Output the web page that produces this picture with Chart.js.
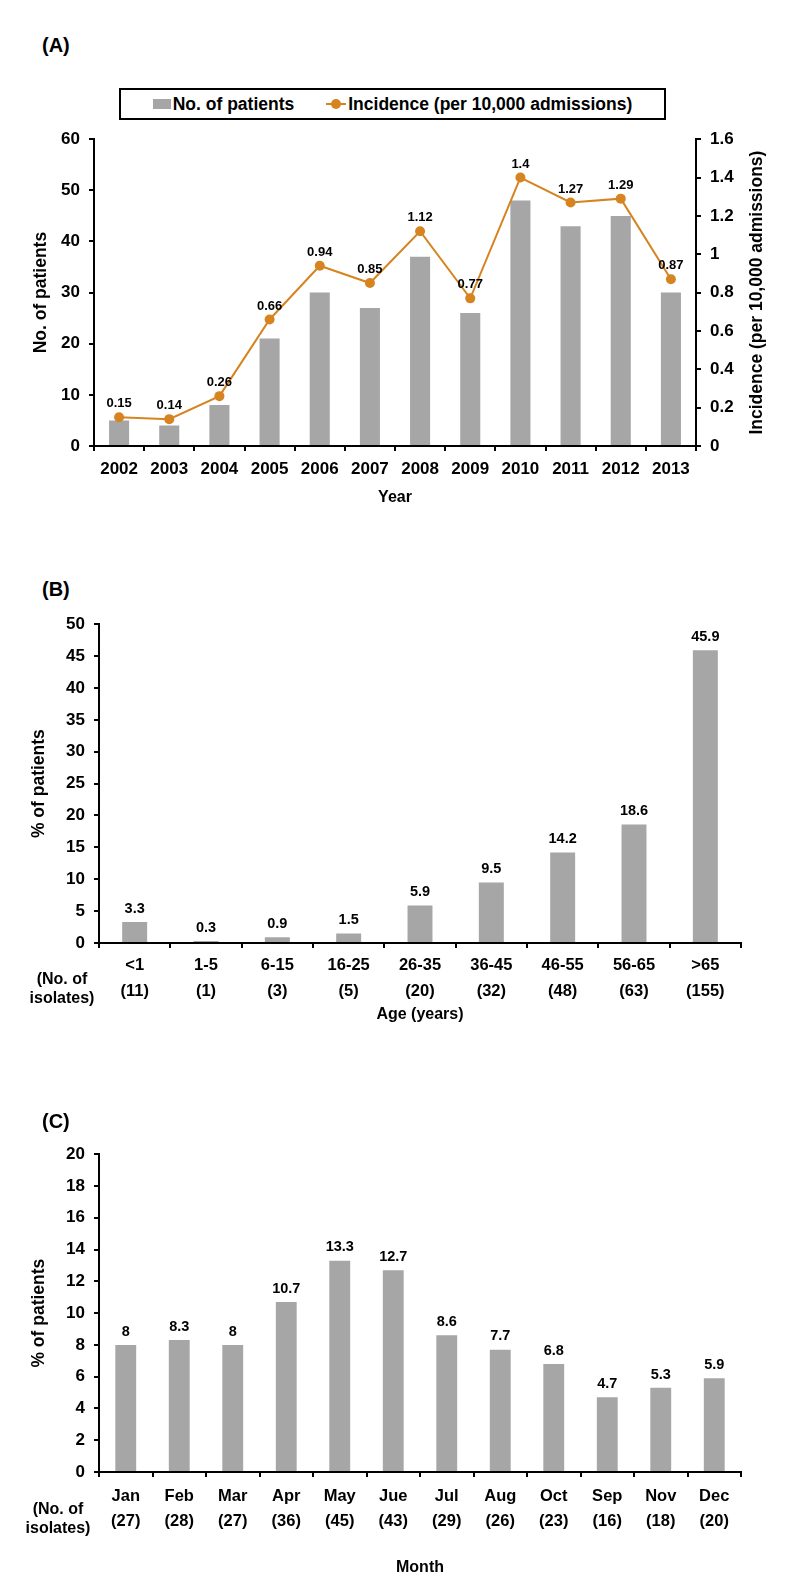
<!DOCTYPE html>
<html>
<head>
<meta charset="utf-8">
<title>Patients by year, age and month</title>
<style>
    body { margin: 0; background: #fff; font-family: "Liberation Sans", Arial, sans-serif; font-weight: bold; color: #000; }
    .page { position: relative; width: 800px; height: 1591px; }
    .tag { position: absolute; left: 42px; font-size: 20px; line-height: 24px; }
    .box { position: absolute; left: 0; width: 800px; }
    .legend { position: absolute; left: 119px; top: 88px; width: 547px; height: 32px; box-sizing: border-box;
              border: 2px solid #000; display: flex; align-items: center; justify-content: center; font-size: 17.5px; }
    .legend .sw { display: inline-block; width: 18px; height: 10px; background: #a6a6a6; margin-right: 2px; }
    .legend svg { margin-right: 2px; }
    .legend .gap { width: 32px; }
    .note { position: absolute; width: 80px; text-align: center; font-size: 16px; line-height: 19px; }
</style>
</head>
<body>
<div class="page">
    <div class="tag" style="top:33px">(A)</div>
    <div class="legend">
        <span class="sw"></span><span>No. of patients</span>
        <span class="gap"></span>
        <svg width="20" height="12"><line x1="0" y1="6" x2="20" y2="6" stroke="#d68420" stroke-width="2"/><circle cx="10" cy="6" r="5" fill="#d68420"/></svg><span>Incidence (per 10,000 admissions)</span>
    </div>
    <div class="box" style="top:120px;height:400px"><canvas id="chartA"></canvas></div>

    <div class="tag" style="top:577px">(B)</div>
    <div class="box" style="top:605px;height:425px"><canvas id="chartB"></canvas></div>
    <div class="note" style="left:22px;top:969px">(No. of<br>isolates)</div>

    <div class="tag" style="top:1109px">(C)</div>
    <div class="box" style="top:1135px;height:456px"><canvas id="chartC"></canvas></div>
    <div class="note" style="left:18px;top:1499px">(No. of<br>isolates)</div>
</div>

<script src="https://cdn.jsdelivr.net/npm/chart.js@4.4.1/dist/chart.umd.min.js"></script>
<script>
// panel A - by year
var years = ['2002','2003','2004','2005','2006','2007','2008','2009','2010','2011','2012','2013'];
var patients = [5, 4, 8, 21, 30, 27, 37, 26, 48, 43, 45, 30];
var incidence = [0.15, 0.14, 0.26, 0.66, 0.94, 0.85, 1.12, 0.77, 1.4, 1.27, 1.29, 0.87];

// panel B - by age
var ageGroups = ['<1','1-5','6-15','16-25','26-35','36-45','46-55','56-65','>65'];
var ageIsolates = [11, 1, 3, 5, 20, 32, 48, 63, 155];
var agePct = [3.3, 0.3, 0.9, 1.5, 5.9, 9.5, 14.2, 18.6, 45.9];

// panel C - by month (order and spelling as in the figure)
var months = ['Jan','Feb','Mar','Apr','May','Jue','Jul','Aug','Oct','Sep','Nov','Dec'];
var monthIsolates = [27, 28, 27, 36, 45, 43, 29, 26, 23, 16, 18, 20];
var monthPct = [8, 8.3, 8, 10.7, 13.3, 12.7, 8.6, 7.7, 6.8, 4.7, 5.3, 5.9];

var FONT = '"Liberation Sans", Arial, sans-serif';
var GRAY = '#a6a6a6';
var ORANGE = '#d68420';

Chart.defaults.font.family = FONT;
Chart.defaults.font.weight = 'bold';
Chart.defaults.color = '#000';
Chart.defaults.animation = false;

// numbers above bars / points
var valueLabels = {
    id: 'valueLabels',
    afterDatasetsDraw: function(chart, args, opts) {
        var ctx = chart.ctx;
        ctx.save();
        ctx.font = 'bold ' + opts.size + 'px ' + FONT;
        ctx.fillStyle = '#000';
        ctx.textAlign = 'center';
        ctx.textBaseline = 'bottom';
        chart.data.datasets.forEach(function(ds, i) {
            if (!ds.showValues) return;
            chart.getDatasetMeta(i).data.forEach(function(el, j) {
                ctx.fillText(String(ds.data[j]), el.x, el.y - opts.gap);
            });
        });
        ctx.restore();
    }
};

// right axis title reads bottom to top like the left one
var rightTitle = {
    id: 'rightTitle',
    afterDraw: function(chart, args, opts) {
        if (!opts.text) return;
        var ca = chart.chartArea, ctx = chart.ctx;
        ctx.save();
        ctx.translate(opts.x, (ca.top + ca.bottom) / 2);
        ctx.rotate(-Math.PI / 2);
        ctx.font = 'bold 17.5px ' + FONT;
        ctx.fillStyle = '#000';
        ctx.textAlign = 'center';
        ctx.textBaseline = 'middle';
        ctx.fillText(opts.text, 0, 0);
        ctx.restore();
    }
};

function axisLines() {
    return {
        border: { display: true, color: '#000', width: 2 },
        grid: { drawOnChartArea: false, drawTicks: true, tickLength: 5, color: '#000', tickColor: '#000', lineWidth: 2 }
    };
}

function yAxis(pos, max, step, width, title, titleX) {
    var a = axisLines();
    a.position = pos;
    a.min = 0; a.max = max;
    a.ticks = { stepSize: step, padding: 9, font: { size: 17 }, callback: function(v) { return +v.toFixed(1); } };
    if (title) {
        a.title = { display: true, text: title, font: { size: 17.5 }, padding: { top: titleX - 10.5, bottom: 0 } };
    }
    a.afterFit = function(s) { s.width = width; };
    return a;
}

function xAxis(height, tickPad, lineHeight, title, titlePad) {
    var a = axisLines();
    a.ticks = { padding: tickPad, maxRotation: 0, autoSkip: false, font: { size: lineHeight ? 16.5 : 17, lineHeight: lineHeight || 1.2 } };
    a.title = { display: true, text: title, font: { size: 16 }, padding: { top: 0, bottom: titlePad } };
    a.afterFit = function(s) { s.height = height; };
    return a;
}

function twoLine(cats, counts) {
    return cats.map(function(c, i) { return [c, '(' + counts[i] + ')']; });
}

new Chart(document.getElementById('chartA'), {
    type: 'bar',
    data: {
        labels: years,
        datasets: [
            { label: 'Incidence (per 10,000 admissions)', type: 'line', data: incidence, yAxisID: 'y1', order: 0,
              borderColor: ORANGE, backgroundColor: ORANGE, borderWidth: 2, pointRadius: 5, pointBorderWidth: 0,
              pointBackgroundColor: ORANGE, tension: 0, showValues: true },
            { label: 'No. of patients', data: patients, yAxisID: 'y', order: 1,
              backgroundColor: GRAY, barPercentage: 0.4, categoryPercentage: 1 }
        ]
    },
    options: {
        responsive: true,
        maintainAspectRatio: false,
        layout: { padding: { top: 13, left: 0, right: 0, bottom: 0 } },
        plugins: {
            legend: { display: false },
            tooltip: { enabled: false },
            valueLabels: { size: 13, gap: 7 },
            rightTitle: { text: 'Incidence (per 10,000 admissions)', x: 757 }
        },
        scales: {
            x: xAxis(74, 8, null, 'Year', 12.4),
            y: yAxis('left', 60, 10, 94, 'No. of patients', 41),
            y1: yAxis('right', 1.6, 0.2, 104, null, 0)
        }
    },
    plugins: [valueLabels, rightTitle]
});

new Chart(document.getElementById('chartB'), {
    type: 'bar',
    data: {
        labels: twoLine(ageGroups, ageIsolates),
        datasets: [
            { label: '% of patients', data: agePct, backgroundColor: GRAY, barPercentage: 0.35, categoryPercentage: 1, showValues: true }
        ]
    },
    options: {
        responsive: true,
        maintainAspectRatio: false,
        layout: { padding: { top: 13, left: 0, right: 59, bottom: 0 } },
        plugins: {
            legend: { display: false },
            tooltip: { enabled: false },
            valueLabels: { size: 14.5, gap: 6 }
        },
        scales: {
            x: xAxis(87, 4, 1.576, 'Age (years)', 5.4),
            y: yAxis('left', 50, 5, 99, '% of patients', 39)
        }
    },
    plugins: [valueLabels]
});

new Chart(document.getElementById('chartC'), {
    type: 'bar',
    data: {
        labels: twoLine(months, monthIsolates),
        datasets: [
            { label: '% of patients', data: monthPct, backgroundColor: GRAY, barPercentage: 0.39, categoryPercentage: 1, showValues: true }
        ]
    },
    options: {
        responsive: true,
        maintainAspectRatio: false,
        layout: { padding: { top: 14, left: 0, right: 59, bottom: 0 } },
        plugins: {
            legend: { display: false },
            tooltip: { enabled: false },
            valueLabels: { size: 14.5, gap: 6 }
        },
        scales: {
            x: xAxis(119, 6.5, 1.515, 'Month', 13.4),
            y: yAxis('left', 20, 2, 99, '% of patients', 39)
        }
    },
    plugins: [valueLabels]
});
</script>
</body>
</html>
